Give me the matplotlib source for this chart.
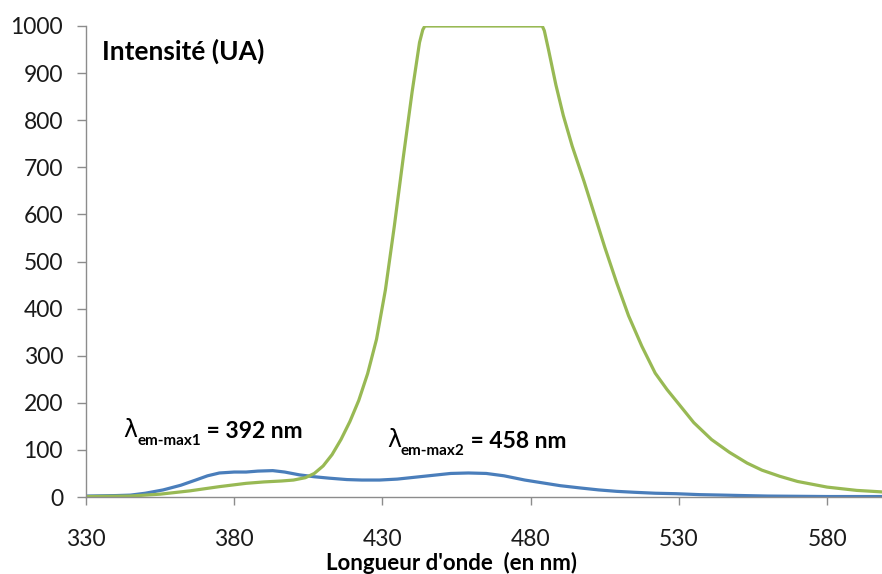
import matplotlib
matplotlib.use("Agg")
import matplotlib.pyplot as plt

# emission spectra
wl_blue = [330, 340, 345, 350, 356, 362, 367, 371, 375, 380, 384, 388, 393, 397,
           402, 407, 412, 418, 423, 429, 435, 441, 447, 453, 459, 465, 471, 478,
           484, 490, 497, 503, 509, 515, 522, 529, 537, 545, 552, 560, 570, 580,
           590, 598]
int_blue = [2, 3, 4, 8, 15, 25, 36, 45, 51, 53, 53, 55, 56, 53,
            47, 43, 40, 37, 36, 36, 38, 42, 46, 50, 51, 50, 45, 36,
            30, 24, 19, 15, 12, 10, 8, 7, 5, 4, 3, 2, 1.5, 1,
            1, 1]

wl_green = [330, 345, 355, 365, 375, 384, 390, 396, 400, 404, 407, 410, 413, 416,
            419, 422, 425, 428, 431, 434, 437, 440, 442.5, 443.6, 444.3,
            483.9, 484.6, 486, 488.5, 491, 494, 498, 502, 505, 509, 513, 517.5,
            522, 526, 530, 535, 541, 547, 553, 558, 564, 570, 580, 590, 598]
int_green = [1, 2, 6, 13, 22, 29, 32, 34, 36, 41, 50, 66, 90, 122,
             160, 205, 262, 335, 440, 575, 720, 860, 965, 992, 1000,
             1000, 990, 950, 875, 810, 745, 670, 590, 530, 455, 385, 320,
             263, 228, 197, 158, 122, 95, 72, 57, 44, 33, 21, 14, 11]

x_ticks = [330, 380, 430, 480, 530, 580]
y_ticks = [0, 100, 200, 300, 400, 500, 600, 700, 800, 900, 1000]

plt.rcParams["font.family"] = ["Lato", "DejaVu Sans"]

W, H = 882, 574
fig = plt.figure(figsize=(W / 100, H / 100), dpi=100)
ax = fig.add_axes([86 / W, 77 / H, (W - 86) / W, (497 - 26) / H])

ax.plot(wl_blue, int_blue, color="#4a7ebb", lw=2.3, solid_joinstyle="round")
ax.plot(wl_green, int_green, color="#98b954", lw=2.3, solid_joinstyle="round")

ax.set_xlim(330, 598.5)
ax.set_ylim(0, 1000)
ax.set_xticks(x_ticks)
ax.set_yticks(y_ticks)
for s in ["top", "right"]:
    ax.spines[s].set_visible(False)
for s in ["left", "bottom"]:
    ax.spines[s].set_color("#8c8c8c")
    ax.spines[s].set_linewidth(1.0)
ax.tick_params(axis="y", direction="out", length=6.5, width=1, color="#8c8c8c",
               pad=10, labelsize=16.5, labelcolor="#1a1a1a")
ax.tick_params(axis="x", direction="out", length=6, width=1, color="#8c8c8c",
               pad=17, labelsize=16.5, labelcolor="#1a1a1a")

fig.text(102 / W, 1 - 60 / H, "Intensité (UA)", fontsize=19, fontweight="bold",
         ha="left", va="baseline")
fig.text(451 / W, 1 - 570 / H, "Longueur d'onde  (en nm)", fontsize=16,
         fontweight="bold", ha="center", va="baseline")


def lambda_label(x, y, sub, rest):
    lam = ax.text(x, y, "λ", fontsize=17, ha="left", va="baseline",
                  family=["DejaVu Sans"])
    s = ax.annotate(sub, xy=(1, 0.05), xycoords=lam, fontsize=11,
                    fontweight="bold", ha="left", va="center")
    ax.annotate(rest, xy=(1, 0), xycoords=(s, lam), fontsize=16.5,
                fontweight="bold", ha="left", va="bottom")


lambda_label(342.5, 128, "em-max1", " = 392 nm")
lambda_label(431.5, 106, "em-max2", " = 458 nm")

fig.savefig("out.png", dpi=100)
